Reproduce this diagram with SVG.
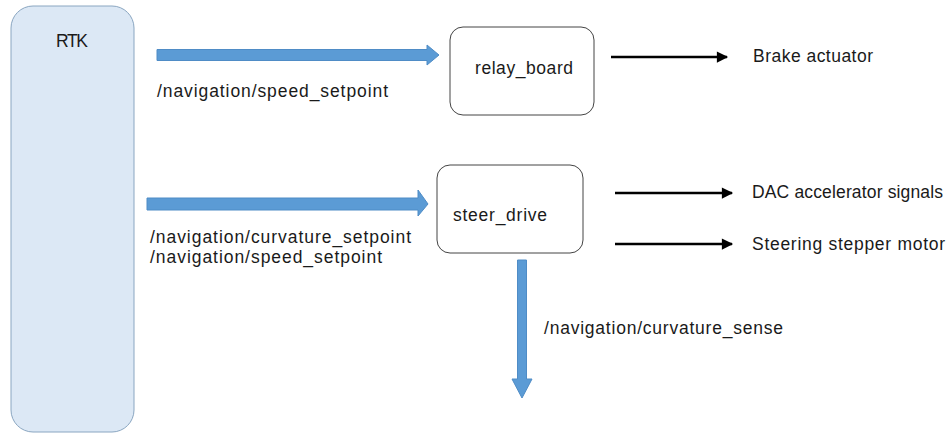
<svg xmlns="http://www.w3.org/2000/svg" width="950" height="433" viewBox="0 0 950 433">
<defs>
<style>
text{font-family:"Liberation Sans",Arial,sans-serif;font-size:17.5px;fill:#1a1a1a}
.node{fill:#fff;stroke:#444;stroke-width:1}
.fat{fill:#5b9bd5;stroke:#4f8cc6;stroke-width:1}
.thin{stroke:#000;stroke-width:2.5;fill:none;marker-end:url(#ah)}
</style>
<marker id="ah" viewBox="0 0 10 10" refX="9" refY="5" markerWidth="5" markerHeight="4.5" orient="auto" markerUnits="strokeWidth">
<path d="M0,0 L10,5 L0,10 z" fill="#000"/>
</marker>
</defs>
<rect width="950" height="433" fill="#fff"/>
<g id="rtk">
<rect x="11" y="6" width="123" height="426" rx="22" fill="#dce8f5" stroke="#8aa6c1" stroke-width="1"/>
<text x="56" y="47" textLength="32">RTK</text>
</g>
<g id="relay_board">
<rect class="node" x="450" y="27" width="144" height="88" rx="13"/>
<text x="475" y="74" textLength="98">relay_board</text>
</g>
<g id="steer_drive">
<rect class="node" x="437" y="165" width="146" height="88" rx="13"/>
<text x="453" y="221" textLength="94">steer_drive</text>
</g>
<g id="outputs">
<text x="753" y="62" textLength="120">Brake actuator</text>
<text x="752" y="198" textLength="191">DAC accelerator signals</text>
<text x="752" y="250" textLength="193">Steering stepper motor</text>
</g>
<g id="connectors">
<path class="fat" d="M157,49.5 H427 V45 L439,55 L427,65 V60.5 H157 Z"/>
<path class="fat" d="M147,198 H418 V190 L428,204 L418,216 V210 H147 Z"/>
<path class="fat" d="M517.5,260 H526.5 V379 H532 L522,398 L512,379 H517.5 Z"/>
<line class="thin" x1="611" y1="57" x2="727" y2="57"/>
<line class="thin" x1="615" y1="193" x2="732" y2="193"/>
<line class="thin" x1="615" y1="244" x2="732" y2="244"/>
<text x="157" y="97" textLength="231">/navigation/speed_setpoint</text>
<text x="150" y="243" textLength="261">/navigation/curvature_setpoint</text>
<text x="150" y="263" textLength="232">/navigation/speed_setpoint</text>
<text x="544" y="334" textLength="239">/navigation/curvature_sense</text>
</g>
</svg>
